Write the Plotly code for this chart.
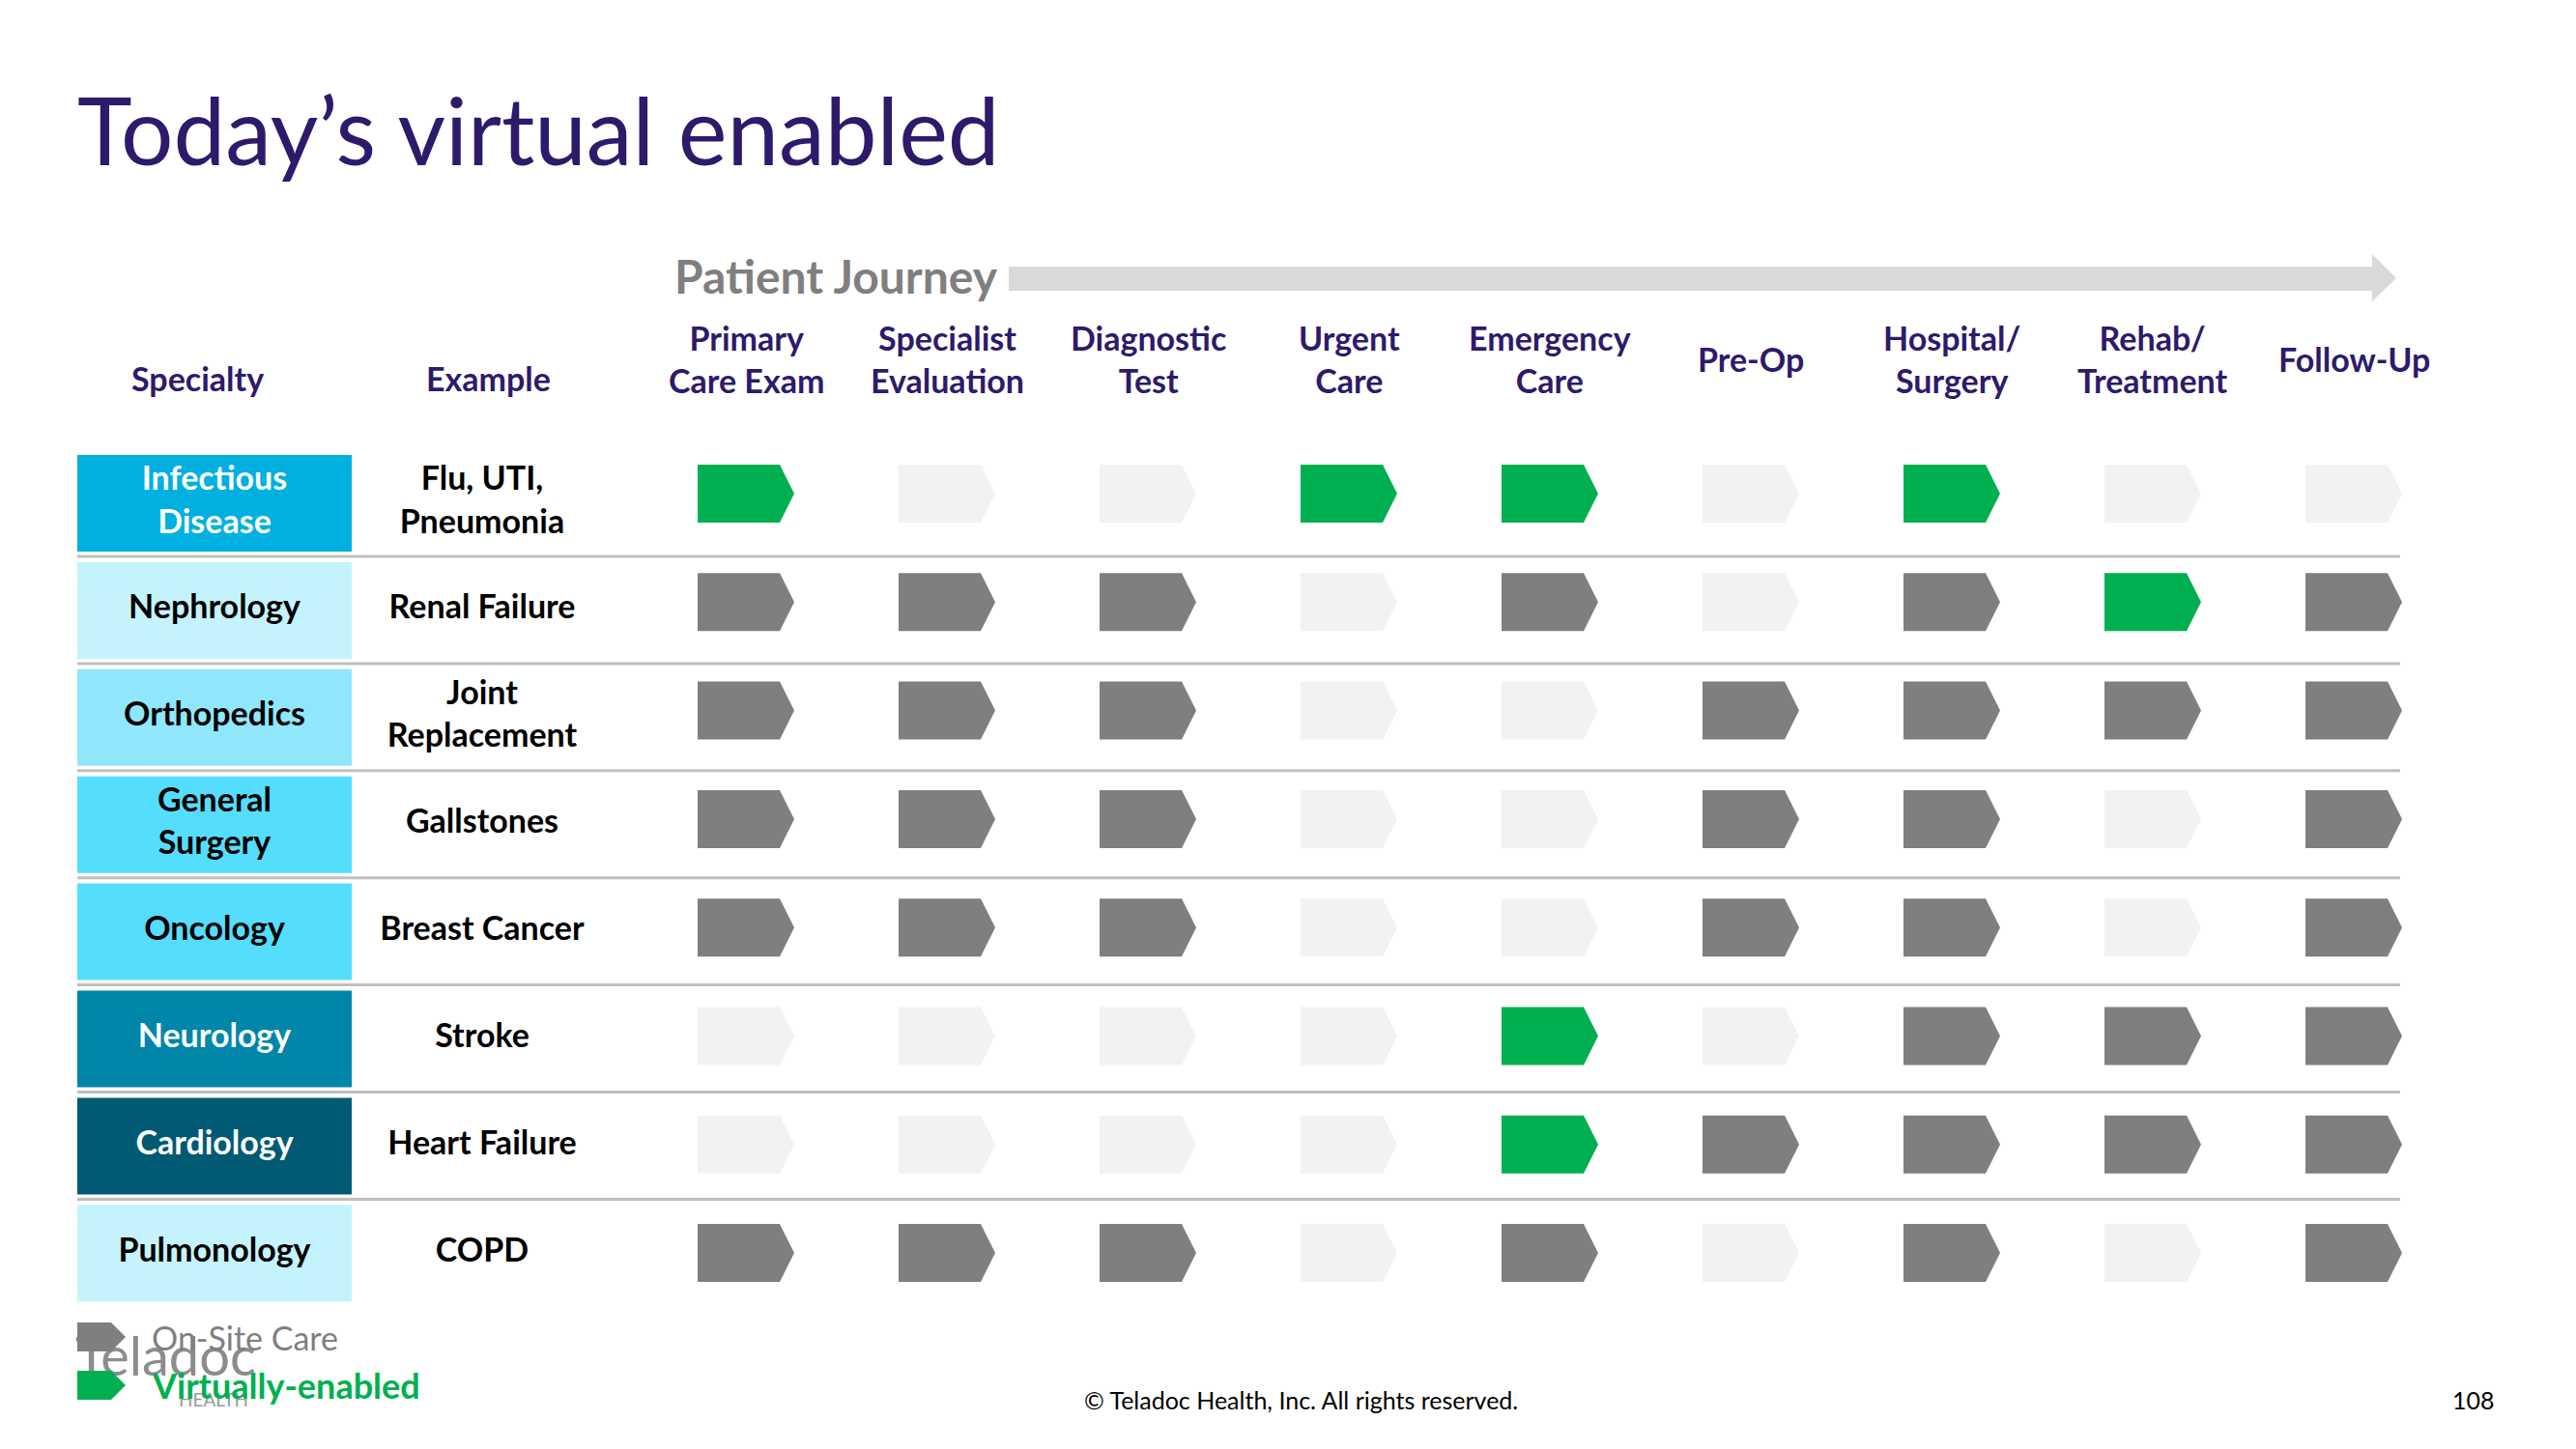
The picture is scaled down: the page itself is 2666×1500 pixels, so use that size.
import plotly.graph_objects as go

W, H = 2666, 1500

stages = ["Primary<br>Care Exam", "Specialist<br>Evaluation", "Diagnostic<br>Test", "Urgent<br>Care",
          "Emergency<br>Care", "Pre-Op", "Hospital/<br>Surgery", "Rehab/<br>Treatment", "Follow-Up"]
specialties = ["Infectious<br>Disease", "Nephrology", "Orthopedics", "General<br>Surgery",
               "Oncology", "Neurology", "Cardiology", "Pulmonology"]
examples = ["Flu, UTI,<br>Pneumonia", "Renal Failure", "Joint<br>Replacement", "Gallstones",
            "Breast Cancer", "Stroke", "Heart Failure", "COPD"]
spec_colors = ["#00B0E0", "#C5F3FD", "#90E7FC", "#55DDFD", "#55DDFD", "#0086A8", "#005A73", "#C5F3FD"]
spec_text = ["white", "black", "black", "black", "black", "white", "white", "black"]

# 0 = not part of journey, 1 = on-site care, 2 = virtually-enabled
status = [
    [2, 0, 0, 2, 2, 0, 2, 0, 0],
    [1, 1, 1, 0, 1, 0, 1, 2, 1],
    [1, 1, 1, 0, 0, 1, 1, 1, 1],
    [1, 1, 1, 0, 0, 1, 1, 0, 1],
    [1, 1, 1, 0, 0, 1, 1, 0, 1],
    [0, 0, 0, 0, 2, 0, 1, 1, 1],
    [0, 0, 0, 0, 2, 1, 1, 1, 1],
    [1, 1, 1, 0, 1, 0, 1, 0, 1],
]
legend_labels = ["On-Site Care", "Virtually-enabled"]

FONT = "Lato"
PURPLE = "#2E1A6B"
GREY = "#7F7F7F"
GREEN = "#00B050"
FILLS = {0: "#F2F2F2", 1: GREY, 2: GREEN}
TXT = 34

# page geometry (px) -> axis units: one unit per journey column / per specialty row
COL0, DCOL = 772, 208
ROW0, DROW = 521, 110.9
def dx(px): return (px - COL0) / DCOL
def dy(py): return (py - ROW0) / DROW

def chevron_row(r):
    # chevrons sit on a slightly wider pitch than the specialty boxes
    return dy(511 + 112.3 * r)

def chevron(cx, cy, w=100, body=85, h=60):
    x0, xb, xt = cx - w / 2 / DCOL, cx + (body - w / 2) / DCOL, cx + w / 2 / DCOL
    hh = h / 2 / DROW
    return ([x0, xb, xt, xb, x0, x0, None], [cy - hh, cy - hh, cy, cy + hh, cy + hh, cy - hh, None])

fig = go.Figure()

# logo sits underneath the legend
fig.add_trace(go.Scatter(x=[dx(78), dx(185)], y=[dy(1410), dy(1451)], mode="text",
                         text=["Teladoc", "HEALTH"], textposition="middle right",
                         textfont=dict(family=FONT, size=[56, 19], color=["#8C8C8C", "#9A9A9A"]),
                         hoverinfo="skip", showlegend=False))

# patient journey arrow
ax = [dx(1044), dx(2455), dx(2455), dx(2480), dx(2455), dx(2455), dx(1044), dx(1044)]
ay = [dy(276), dy(276), dy(263), dy(288), dy(312), dy(301), dy(301), dy(276)]
fig.add_trace(go.Scatter(x=ax, y=ay, mode="lines", fill="toself", fillcolor="#D9D9D9",
                         line=dict(width=0), hoverinfo="skip", showlegend=False))

# specialty boxes
rows = list(range(len(specialties)))
fig.add_trace(go.Bar(y=rows, x=[284 / DCOL] * len(rows), base=[dx(80)] * len(rows), orientation="h",
                     width=100 / DROW, marker=dict(color=spec_colors, line=dict(width=0)),
                     hoverinfo="skip", showlegend=False))
fig.add_trace(go.Scatter(x=[dx(222)] * len(rows), y=rows, mode="text", text=specialties,
                         textfont=dict(family=FONT, size=TXT, color=spec_text, weight="bold"),
                         hoverinfo="skip", showlegend=False))
fig.add_trace(go.Scatter(x=[dx(499)] * len(rows), y=rows, mode="text", text=examples,
                         textfont=dict(family=FONT, size=TXT, color="black", weight="bold"),
                         hoverinfo="skip", showlegend=False))

# journey chevrons, one filled trace per state
for state, color in FILLS.items():
    xs, ys = [], []
    for r, row in enumerate(status):
        for c, v in enumerate(row):
            if v == state:
                px, py = chevron(c, chevron_row(r))
                xs += px; ys += py
    fig.add_trace(go.Scatter(x=xs, y=ys, mode="lines", fill="toself", fillcolor=color,
                             line=dict(width=0), hoverinfo="skip", showlegend=False))

# row separators
for r in rows[:-1]:
    fig.add_shape(type="line", xref="x", yref="y", x0=dx(80), x1=dx(2484),
                  y0=r + 55 / DROW, y1=r + 55 / DROW, line=dict(color="#BFBFBF", width=3))

# column headers
for c, s in enumerate(stages):
    fig.add_annotation(x=c, y=dy(371), xref="x", yref="y", text=s, showarrow=False,
                       font=dict(family=FONT, size=TXT, color=PURPLE, weight="bold"), align="center")
for lbl, px in [("Specialty", 204), ("Example", 505)]:
    fig.add_annotation(x=dx(px), y=dy(391), xref="x", yref="y", text=lbl, showarrow=False,
                       font=dict(family=FONT, size=TXT, color=PURPLE, weight="bold"))

fig.add_annotation(x=dx(696), y=dy(285), xref="x", yref="y", xanchor="left", text="Patient Journey",
                   showarrow=False, font=dict(family=FONT, size=48, color=GREY, weight="bold"))

# title
fig.add_annotation(x=78 / W, y=1 - 133 / H, xref="paper", yref="paper", xanchor="left", yanchor="middle",
                   text="Today\u2019s virtual enabled", showarrow=False,
                   font=dict(family=FONT, size=96, color=PURPLE))

# legend keys
for i, (lbl, state) in enumerate(zip(legend_labels, [1, 2])):
    cy = 1384 + 50 * i
    px, py = chevron(dx(105), dy(cy), w=50, body=35, h=30)
    fig.add_trace(go.Scatter(x=px, y=py, mode="lines", fill="toself", fillcolor=FILLS[state],
                             line=dict(width=0), hoverinfo="skip", showlegend=False))
    fig.add_annotation(x=dx(155), y=dy(cy), xref="x", yref="y", xanchor="left", text=lbl,
                       showarrow=False,
                       font=dict(family=FONT, size=36 if state == 2 else 34, color=FILLS[state],
                                 weight="bold" if state == 2 else "normal"))

# footer
fig.add_annotation(x=1346 / W, y=1 - 1449 / H, xref="paper", yref="paper", xanchor="center",
                   yanchor="middle", text="\u00a9 Teladoc Health, Inc. All rights reserved.",
                   showarrow=False, font=dict(family=FONT, size=25, color="black"))
fig.add_annotation(x=2560 / W, y=1 - 1449 / H, xref="paper", yref="paper", xanchor="center",
                   yanchor="middle", text="108", showarrow=False,
                   font=dict(family=FONT, size=25, color="black"))

fig.update_layout(
    width=W, height=H, margin=dict(l=0, r=0, t=0, b=0),
    paper_bgcolor="white", plot_bgcolor="white",
    xaxis=dict(range=[dx(0), dx(W)], visible=False, fixedrange=True),
    yaxis=dict(range=[dy(H), dy(0)], visible=False, fixedrange=True),
)

fig.write_html("out.html", config={"displayModeBar": False},
               post_script="document.body.style.margin = '0';")
